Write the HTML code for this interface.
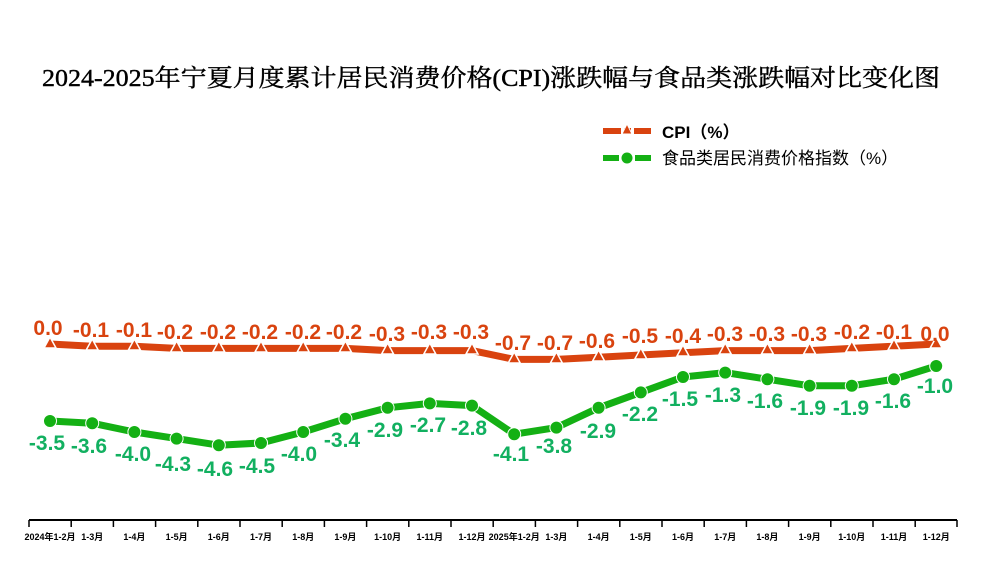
<!DOCTYPE html>
<html><head><meta charset="utf-8"><style>
html,body{margin:0;padding:0;background:#fff;}
svg{display:block;}
.t{font-family:"Liberation Serif","Noto Serif CJK SC",serif;}
.s{font-family:"Liberation Sans","Noto Sans CJK SC",sans-serif;}
</style></head><body>
<svg width="982" height="566" viewBox="0 0 982 566" xmlns="http://www.w3.org/2000/svg">
<text class="t" x="42" y="86" font-size="24" textLength="898" lengthAdjust="spacingAndGlyphs" fill="#000" stroke="#000" stroke-width="0.4">2024-2025年宁夏月度累计居民消费价格(CPI)涨跌幅与食品类涨跌幅对比变化图</text>
<!-- legend -->
<line x1="603" y1="131" x2="619" y2="131" stroke="#d9430f" stroke-width="6"/>
<line x1="635" y1="131" x2="651" y2="131" stroke="#d9430f" stroke-width="6"/>
<line x1="619" y1="131" x2="635" y2="131" stroke="#d9430f" stroke-width="6" stroke-dasharray="2,3"/>
<polygon points="627,124 632,134 622,134" fill="#d9430f" stroke="#fff" stroke-width="1"/>
<text class="s" x="662" y="138" font-size="17" font-weight="bold" fill="#000">CPI（%）</text>
<line x1="603" y1="158" x2="619" y2="158" stroke="#14b014" stroke-width="6"/>
<line x1="635" y1="158" x2="651" y2="158" stroke="#14b014" stroke-width="6"/>
<circle cx="627" cy="158" r="5.5" fill="#14b014"/>
<text class="s" x="662" y="164" font-size="17" fill="#000">食品类居民消费价格指数（%）</text>
<!-- lines -->
<polyline fill="none" stroke="#d9430f" stroke-width="7" stroke-linejoin="round" points="50,344 92.2,346.2 134.4,346.2 176.6,348.4 218.8,348.4 261,348.4 303.2,348.4 345.4,348.4 387.6,350.6 429.8,350.6 472,350.6 514.2,359.4 556.4,359.4 598.6,357.2 640.8,355 683,352.8 725.2,350.6 767.4,350.6 809.6,350.6 851.8,348.4 894,346.2 936.2,344"/>
<polyline fill="none" stroke="#14b014" stroke-width="7" stroke-linejoin="round" stroke-linecap="round" points="50,421 92.2,423.2 134.4,432 176.6,438.6 218.8,445.2 261,443 303.2,432 345.4,418.8 387.6,407.8 429.8,403.4 472,405.6 514.2,434.2 556.4,427.6 598.6,407.8 640.8,392.4 683,377 725.2,372.6 767.4,379.2 809.6,385.8 851.8,385.8 894,379.2 936.2,366"/>
<g fill="#d9430f" stroke="#fff" stroke-width="1.5">
<polygon points="50,337 56,348 44,348"/><polygon points="92.2,339 98.2,350 86.2,350"/><polygon points="134.4,339 140.4,350 128.4,350"/><polygon points="176.6,341 182.6,352 170.6,352"/><polygon points="218.8,341 224.8,352 212.8,352"/><polygon points="261,341 267,352 255,352"/><polygon points="303.2,341 309.2,352 297.2,352"/><polygon points="345.4,341 351.4,352 339.4,352"/><polygon points="387.6,343 393.6,354 381.6,354"/><polygon points="429.8,343 435.8,354 423.8,354"/><polygon points="472,343 478,354 466,354"/><polygon points="514.2,352 520.2,363 508.2,363"/><polygon points="556.4,352 562.4,363 550.4,363"/><polygon points="598.6,350 604.6,361 592.6,361"/><polygon points="640.8,348 646.8,359 634.8,359"/><polygon points="683,345 689,356 677,356"/><polygon points="725.2,343 731.2,354 719.2,354"/><polygon points="767.4,343 773.4,354 761.4,354"/><polygon points="809.6,343 815.6,354 803.6,354"/><polygon points="851.8,341 857.8,352 845.8,352"/><polygon points="894,339 900,350 888,350"/><polygon points="936.2,337 942.2,348 930.2,348"/>
</g>
<g fill="#14b014" stroke="#fff" stroke-width="1">
<circle cx="50" cy="421" r="6.5"/><circle cx="92.2" cy="423.2" r="6.5"/><circle cx="134.4" cy="432" r="6.5"/><circle cx="176.6" cy="438.6" r="6.5"/><circle cx="218.8" cy="445.2" r="6.5"/><circle cx="261" cy="443" r="6.5"/><circle cx="303.2" cy="432" r="6.5"/><circle cx="345.4" cy="418.8" r="6.5"/><circle cx="387.6" cy="407.8" r="6.5"/><circle cx="429.8" cy="403.4" r="6.5"/><circle cx="472" cy="405.6" r="6.5"/><circle cx="514.2" cy="434.2" r="6.5"/><circle cx="556.4" cy="427.6" r="6.5"/><circle cx="598.6" cy="407.8" r="6.5"/><circle cx="640.8" cy="392.4" r="6.5"/><circle cx="683" cy="377" r="6.5"/><circle cx="725.2" cy="372.6" r="6.5"/><circle cx="767.4" cy="379.2" r="6.5"/><circle cx="809.6" cy="385.8" r="6.5"/><circle cx="851.8" cy="385.8" r="6.5"/><circle cx="894" cy="379.2" r="6.5"/><circle cx="936.2" cy="366" r="6.5"/>
</g>
<!-- CPI labels -->
<g class="s" font-size="21" font-weight="bold" fill="#d9430f" text-anchor="middle">
<text x="48" y="335">0.0</text><text x="91" y="337">-0.1</text><text x="134" y="337">-0.1</text><text x="175" y="339">-0.2</text><text x="218" y="339">-0.2</text><text x="260" y="339">-0.2</text><text x="303" y="339">-0.2</text><text x="344" y="339">-0.2</text><text x="387" y="341">-0.3</text><text x="429" y="339">-0.3</text><text x="471" y="339">-0.3</text><text x="513" y="350">-0.7</text><text x="555" y="350">-0.7</text><text x="597" y="348">-0.6</text><text x="640" y="343">-0.5</text><text x="683" y="343">-0.4</text><text x="725" y="341">-0.3</text><text x="767" y="341">-0.3</text><text x="809" y="341">-0.3</text><text x="852" y="339">-0.2</text><text x="894" y="339">-0.1</text><text x="935" y="341">0.0</text>
</g>
<!-- food labels -->
<g class="s" font-size="21" font-weight="bold" fill="#12b060" text-anchor="middle">
<text x="47" y="450">-3.5</text><text x="89" y="453">-3.6</text><text x="133" y="461">-4.0</text><text x="173" y="471">-4.3</text><text x="215" y="476">-4.6</text><text x="257" y="473">-4.5</text><text x="299" y="461">-4.0</text><text x="342" y="447">-3.4</text><text x="385" y="437">-2.9</text><text x="428" y="432">-2.7</text><text x="469" y="435">-2.8</text><text x="511" y="461">-4.1</text><text x="554" y="453">-3.8</text><text x="598" y="438">-2.9</text><text x="640" y="421">-2.2</text><text x="680" y="406">-1.5</text><text x="723" y="402">-1.3</text><text x="765" y="408">-1.6</text><text x="808" y="415">-1.9</text><text x="851" y="415">-1.9</text><text x="893" y="408">-1.6</text><text x="935" y="393">-1.0</text>
</g>
<!-- axis -->
<line x1="29" y1="520" x2="957" y2="520" stroke="#000" stroke-width="2"/>
<g stroke="#000" stroke-width="1.5">
<line x1="29" y1="520" x2="29" y2="527"/><line x1="71.2" y1="520" x2="71.2" y2="527"/><line x1="113.4" y1="520" x2="113.4" y2="527"/><line x1="155.6" y1="520" x2="155.6" y2="527"/><line x1="197.8" y1="520" x2="197.8" y2="527"/><line x1="240" y1="520" x2="240" y2="527"/><line x1="282.2" y1="520" x2="282.2" y2="527"/><line x1="324.4" y1="520" x2="324.4" y2="527"/><line x1="366.6" y1="520" x2="366.6" y2="527"/><line x1="408.8" y1="520" x2="408.8" y2="527"/><line x1="451" y1="520" x2="451" y2="527"/><line x1="493.2" y1="520" x2="493.2" y2="527"/><line x1="535.4" y1="520" x2="535.4" y2="527"/><line x1="577.6" y1="520" x2="577.6" y2="527"/><line x1="619.8" y1="520" x2="619.8" y2="527"/><line x1="662" y1="520" x2="662" y2="527"/><line x1="704.2" y1="520" x2="704.2" y2="527"/><line x1="746.4" y1="520" x2="746.4" y2="527"/><line x1="788.6" y1="520" x2="788.6" y2="527"/><line x1="830.8" y1="520" x2="830.8" y2="527"/><line x1="873" y1="520" x2="873" y2="527"/><line x1="915.2" y1="520" x2="915.2" y2="527"/><line x1="957" y1="520" x2="957" y2="527"/>
</g>
<g class="s" font-size="9" font-weight="bold" fill="#000" text-anchor="middle">
<text x="50" y="540">2024年1-2月</text><text x="92.2" y="540">1-3月</text><text x="134.4" y="540">1-4月</text><text x="176.6" y="540">1-5月</text><text x="218.8" y="540">1-6月</text><text x="261" y="540">1-7月</text><text x="303.2" y="540">1-8月</text><text x="345.4" y="540">1-9月</text><text x="387.6" y="540">1-10月</text><text x="429.8" y="540">1-11月</text><text x="472" y="540">1-12月</text><text x="514.2" y="540">2025年1-2月</text><text x="556.4" y="540">1-3月</text><text x="598.6" y="540">1-4月</text><text x="640.8" y="540">1-5月</text><text x="683" y="540">1-6月</text><text x="725.2" y="540">1-7月</text><text x="767.4" y="540">1-8月</text><text x="809.6" y="540">1-9月</text><text x="851.8" y="540">1-10月</text><text x="894" y="540">1-11月</text><text x="936.2" y="540">1-12月</text>
</g>
</svg>
</body></html>
